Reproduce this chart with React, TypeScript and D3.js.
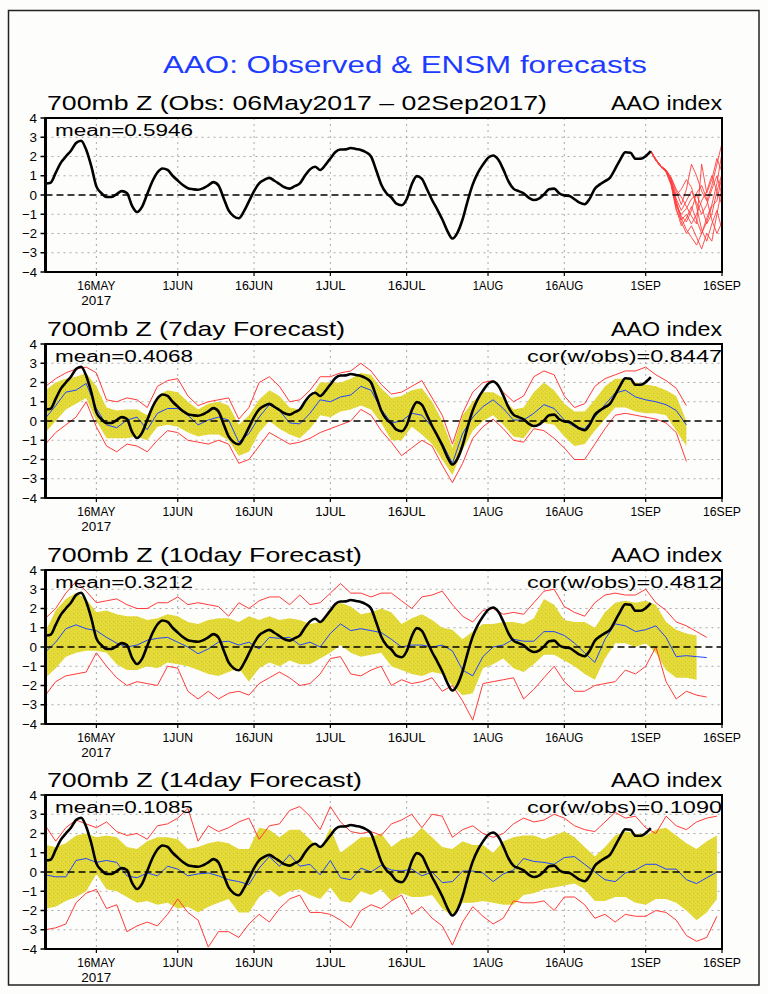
import * as d3 from "d3";
import { useEffect, useRef } from "react";

// time axis: 06May2017 .. 16Sep2017
const START = new Date(2017, 4, 6);
const END = new Date(2017, 8, 16);

// observed AAO index, daily from 06May2017 to 02Sep2017
const obs = [
  0.6, 0.64, 1.15, 1.67, 2.0, 2.3, 2.7, 2.82, 2.35, 1.5,
  0.45, 0.1, -0.1, -0.1, 0.05, 0.2, 0.1, -0.55, -0.88, -0.6,
  0.05, 0.7, 1.17, 1.38, 1.3, 1.0, 0.75, 0.52, 0.35, 0.3,
  0.27, 0.35, 0.5, 0.67, 0.5, -0.15, -0.8, -1.1, -1.21, -0.85,
  -0.33, 0.2, 0.6, 0.78, 0.89, 0.74, 0.57, 0.4, 0.33, 0.46,
  0.6, 1.0, 1.33, 1.47, 1.3, 1.55, 1.9, 2.23, 2.36, 2.37,
  2.44, 2.39, 2.34, 2.22, 2.0, 1.3, 0.55, 0.1, -0.13, -0.45,
  -0.53, -0.22, 0.55, 0.98, 0.84, 0.3, -0.26, -0.74, -1.26, -1.86,
  -2.26, -1.95, -1.26, -0.3, 0.55, 1.15, 1.58, 1.93, 2.05, 1.84,
  1.33, 0.72, 0.33, 0.2, 0.09, -0.14, -0.26, -0.19, 0.03, 0.3,
  0.33, 0.09, -0.02, -0.05, -0.22, -0.4, -0.48, -0.19, 0.33, 0.55,
  0.72, 0.9, 1.36, 1.84, 2.22, 2.19, 1.88, 1.88, 2.02, 2.28,
];

// ensemble members, daily from 02Sep2017 to 16Sep2017
const members = [
  [2.28, 1.85, 1.5, 1.3, 0.9, 0.2, -0.5, 0.3, 1.6, 1.0, 0.2, -0.3, 0.5, 1.6, 2.7],
  [2.28, 1.8, 1.45, 1.2, 0.6, -0.6, -1.0, -0.7, -0.2, 0.0, -0.6, -1.5, -1.0, 0.2, 1.1],
  [2.28, 1.8, 1.5, 1.25, 0.7, -0.3, -1.2, -1.8, -2.2, -2.6, -2.0, -1.2, -0.5, 0.6, 2.2],
  [2.28, 1.85, 1.5, 1.3, 0.8, 0.0, 0.3, 0.8, 0.4, -0.6, -1.8, -2.4, -1.5, -0.8, -1.8],
  [2.28, 1.8, 1.45, 1.2, 0.5, -0.8, -1.3, -1.0, -1.5, -1.0, -0.3, 0.2, 1.0, 0.2, -0.5],
  [2.28, 1.8, 1.5, 1.25, 0.6, -0.5, -1.1, -1.4, -0.8, 0.1, 0.5, -0.2, -1.3, -2.0, -1.4],
  [2.28, 1.85, 1.5, 1.3, 0.9, 0.3, -0.1, -0.6, -1.1, -1.5, 1.6, 0.1, 0.8, 1.9, 1.2],
  [2.28, 1.8, 1.45, 1.2, 0.7, -0.4, -1.4, -2.0, -1.6, -2.2, -2.8, -2.0, -2.4, -1.0, 0.4],
  [2.28, 1.85, 1.5, 1.25, 0.8, -0.2, -0.8, -0.3, 0.2, -0.4, -1.0, -0.5, 0.3, 1.0, 0.0],
  [2.28, 1.8, 1.45, 1.25, 0.6, -0.7, -1.6, -1.2, -0.6, -1.3, -2.0, -1.4, -0.6, -0.3, 1.0],
];

// forecast series, every 2 days from 06May2017
const mean7 = [
  0.15, 0.8, 1.5, 1.6, 1.95, 0.65, -0.2, -0.35, 0.05, 0.2, -0.45, 0.4, 0.65, 0.65, 0.3, -0.2, 0.05,
  0.2, 0.05, -1.1, -0.65, 0.2, 0.85, 0.55, -0.1, -0.15, 0.4, 1.1, 1.0, 1.25, 1.35, 1.8, 1.6, 0.6,
  -0.1, 0.0, 0.4, 0.3, -0.3, -1.15, -2.2, -0.65, 0.2, 0.75, 1.1, 0.65, 0.05, 0.05, 0.4,
  0.85, 0.65, 0.05, -0.3, -0.4, 0.2, 0.85, 1.45, 1.6, 1.25, 1.1, 1.0, 0.85, 0.55, -0.2,
];
const band7Hi = [
  1.6, 2.0, 2.2, 2.3, 2.5, 1.8, 0.7, 0.55, 0.6, 0.6, 0.3, 1.3, 1.6, 1.5, 1.0, 0.6, 0.9,
  1.0, 0.8, -0.2, 0.3, 1.1, 1.6, 1.3, 0.7, 0.6, 1.2, 2.0, 2.0, 2.0, 2.2, 2.5, 2.4, 1.7,
  1.2, 1.3, 1.6, 1.7, 1.0, 0.0, -1.4, 0.3, 1.0, 1.5, 1.5, 1.2, 0.6, 0.7, 1.5,
  2.0, 1.6, 0.9, 0.5, 0.5, 1.1, 1.8, 2.2, 2.2, 2.0, 1.9, 1.8, 1.6, 1.3, 0.0,
];
const band7Lo = [
  -0.6, 0.0, 0.6, 0.9, 1.2, 0.0, -0.9, -0.9, -0.9, -0.8, -1.0, -0.3, -0.2, -0.3, -0.6, -0.8, -0.7,
  -0.7, -1.0, -1.8, -1.6, -0.6, 0.0, -0.4, -0.7, -0.9, -0.4, 0.3, 0.2, 0.5, 0.6, 0.8, 0.6, -0.1,
  -1.0, -1.0, -0.3, -0.7, -1.2, -2.0, -2.8, -1.5, -0.5, 0.0, 0.3, -0.2, -0.8, -0.9, -0.2,
  -0.1, -0.2, -0.8, -1.3, -1.2, -0.5, 0.1, 0.7, 0.7, 0.5, 0.4, 0.4, 0.3, -0.5, -1.3,
];
const red7Hi = [
  1.8, 2.2, 2.5, 2.7, 2.8, 2.5, 1.1, 1.0, 1.2, 1.1, 0.7, 1.8, 2.1, 2.2, 1.3, 0.8, 1.0,
  1.1, 1.2, 0.1, 0.7, 2.0, 2.3, 1.8, 1.0, 1.1, 1.6, 2.3, 2.3, 2.5, 2.6, 3.0, 2.6, 1.9,
  1.4, 1.5, 1.8, 2.1, 1.2, 0.3, -1.2, 0.4, 1.5, 2.0, 2.1, 1.5, 1.0, 1.3, 2.3,
  2.6, 2.4, 1.3, 0.7, 0.9, 1.8, 2.2, 2.4, 2.6, 2.6, 2.8, 2.4, 2.1, 1.7, 0.8,
];
const red7Lo = [
  -1.2, -0.6, -0.2, 0.2, 1.0, -0.3, -1.3, -1.6, -1.2, -1.3, -1.6, -1.0, -0.5, -0.6, -1.0, -1.1, -1.2,
  -1.0, -1.2, -2.2, -2.0, -1.3, -0.6, -0.9, -1.2, -1.1, -0.9, -0.6, -0.4, -0.2, 0.0, 0.6, 0.3, -0.5,
  -1.1, -1.8, -1.4, -1.0, -1.3, -2.3, -3.2, -2.2, -0.9, -0.3, 0.1, -0.4, -1.0, -1.1, -0.4,
  -0.5, -0.9, -1.4, -2.0, -2.0, -1.2, -0.4, 0.3, 0.4, 0.3, 0.2, 0.1, -0.1, -0.6, -2.1,
];

const mean10 = [
  -0.25, 0.25, 0.95, 1.15, 0.95, 0.85, 0.5, 0.2, 0.0, 0.1, 0.35, 0.45, 0.5, 0.25, 0.0, -0.35, -0.1,
  0.25, 0.3, 0.1, 0.25, -0.1, 0.5, 0.45, 0.5, 0.1, 0.25, 0.0, 0.7, 1.2, 0.85, 0.95, 0.85, 0.75,
  0.4, 0.0, 0.1, 0.1, 0.0, 0.1, -0.2, -1.2, -1.5, -0.5, 0.0, 0.1, 0.4, 0.3, 0.3, 0.8,
  0.8, 0.6, 0.2, -0.3, -0.8, 0.4, 1.2, 1.1, 0.8, 0.9, 1.1, 0.5, -0.5, -0.45, -0.5, -0.55,
];
const band10Hi = [
  0.8, 1.9, 2.5, 2.8, 2.5, 1.8, 1.9, 1.7, 1.6, 1.6, 1.4, 1.5, 1.7, 1.6, 1.3, 1.2, 1.4,
  1.5, 1.5, 1.3, 1.6, 1.4, 1.6, 1.4, 1.5, 1.4, 1.2, 1.3, 2.0, 2.3, 2.1, 1.7, 1.8, 2.0,
  1.8, 1.2, 1.5, 1.7, 1.4, 1.0, 0.9, 0.4, 0.8, 1.2, 1.2, 1.3, 1.3, 1.2, 1.5, 2.5,
  2.2, 1.4, 1.3, 1.3, 1.0, 1.8, 2.3, 2.4, 2.3, 2.4, 2.2, 1.3, 0.9, 0.7, 0.6,
];
const band10Lo = [
  -1.6, -1.1, -0.5, -0.3, -0.2, -0.2, -0.3, -0.9, -1.2, -1.2, -1.0, -1.1, -0.8, -0.9, -1.0, -1.2, -1.4,
  -1.5, -1.3, -1.1, -1.8, -1.1, -0.8, -1.0, -0.7, -0.9, -0.9, -0.6, -0.3, 0.1, -0.3, -0.5, -0.4, -0.3,
  -1.0, -1.2, -1.4, -1.5, -1.3, -1.4, -2.0, -2.5, -2.4, -1.1, -0.9, -0.6, -1.1, -1.3, -0.9, -0.4,
  -0.4, -0.7, -1.0, -1.4, -1.7, -0.6, 0.2, 0.2, 0.0, 0.2, -0.3, -1.2, -1.6, -1.6, -1.7,
];
const red10Hi = [
  1.5, 2.0, 2.8, 3.4, 2.9, 2.3, 2.4, 2.5, 2.2, 2.0, 2.0, 2.3, 2.3, 2.6, 2.2, 2.3, 2.2,
  2.1, 1.6, 2.3, 2.0, 2.4, 2.6, 2.6, 2.2, 2.7, 2.2, 2.3, 2.8, 3.3, 2.8, 2.8, 2.6, 2.8,
  2.8, 2.4, 2.0, 2.6, 2.7, 2.9, 2.2, 1.6, 1.3, 1.9, 2.0, 1.7, 1.8, 1.7, 2.3, 2.9,
  3.0, 2.1, 1.8, 1.6, 2.3, 2.7, 2.8, 2.7, 2.7, 3.0, 2.3, 1.9, 1.3, 1.1, 0.8, 0.5,
];
const red10Lo = [
  -2.5, -1.8, -1.5, -1.4, -1.3, -0.3, -1.0, -1.6, -2.0, -1.8, -1.9, -2.0, -1.0, -1.1, -2.3, -2.7, -2.3,
  -2.7, -2.4, -2.3, -2.5, -1.9, -1.6, -1.3, -1.6, -2.0, -1.9, -1.4, -0.6, -0.5, -1.4, -1.5, -1.2, -1.0,
  -2.0, -1.7, -1.9, -1.8, -1.6, -2.3, -2.0, -2.8, -3.8, -1.9, -1.8, -1.7, -1.6, -2.7, -2.2, -1.6,
  -1.0, -1.8, -2.3, -2.3, -2.0, -1.9, -1.8, -1.2, -1.4, -1.0, 0.0, -1.8, -2.7, -2.3, -2.5, -2.6,
];

const mean14 = [
  -0.15, -0.25, -0.25, 0.6, 0.7, 0.5, 0.6, 0.5, -0.2, -0.3, -0.05, -0.2, 0.3, 0.15, -0.2, -0.1, -0.05,
  -0.2, -0.4, -0.5, -0.65, 0.2, 0.8, 0.3, 0.9, 0.3, 0.4, -0.15, 0.6, -0.3, -0.4, 0.2, 0.0, 0.35,
  0.1, 0.05, 0.15, -0.2, 0.0, -0.55, -0.5, 0.05, 0.05, -0.05, -0.5, -0.1, 0.1, 0.7, 0.55, 0.5, 0.4,
  0.75, 0.8, 0.4, 0.0, -0.4, -0.5, -0.05, 0.1, 0.4, 0.4, 0.15, 0.15, -0.4, -0.6, -0.3, 0.0,
];
const band14Hi = [
  1.4, 1.3, 1.5, 1.9, 2.0, 1.8, 1.9, 1.8, 1.3, 1.2, 1.6, 1.8, 1.8, 1.7, 1.2, 1.3, 1.5,
  1.6, 1.5, 1.2, 1.2, 2.3, 2.2, 1.8, 2.2, 2.2, 1.7, 1.2, 2.3, 1.0, 1.4, 1.8, 1.8, 2.0,
  1.3, 1.7, 1.8, 2.3, 1.8, 1.3, 1.2, 1.6, 1.4, 1.4, 1.0, 1.6, 1.8, 1.9, 1.9, 1.7, 1.9,
  2.1, 1.8, 1.3, 0.8, 1.3, 1.9, 2.1, 2.0, 1.9, 2.2, 2.3, 1.9, 1.5, 1.2, 1.6, 1.9,
];
const band14Lo = [
  -1.9, -1.8, -1.5, -1.3, -1.0, -0.1, -0.9, -1.0, -1.3, -1.6, -1.5, -1.7, -1.6, -1.9, -1.8, -2.1, -1.8,
  -1.6, -1.4, -2.1, -2.1, -1.3, -0.9, -1.3, -1.0, -0.9, -1.2, -1.4, -0.8, -1.5, -1.6, -1.0, -1.2, -0.9,
  -1.5, -1.1, -1.3, -1.3, -1.2, -1.9, -2.3, -1.6, -1.6, -1.5, -1.6, -1.7, -1.7, -1.2, -1.1, -0.9, -0.8,
  -0.7, -0.6, -0.9, -1.5, -1.5, -1.3, -1.3, -1.6, -1.7, -1.4, -1.4, -1.6, -2.0, -2.5, -2.1, -1.4,
];
const red14Hi = [
  2.4, 1.6, 2.3, 2.7, 2.5, 2.3, 2.6, 2.1, 1.9, 2.0, 1.7, 2.4, 2.5, 2.8, 3.3, 1.6, 2.4,
  2.1, 2.3, 2.6, 2.8, 1.7, 2.4, 2.5, 3.2, 3.4, 2.9, 2.2, 3.4, 2.6, 2.1, 2.0, 2.1, 1.9,
  2.5, 2.7, 3.0, 2.3, 3.0, 2.9, 1.8, 2.2, 2.4, 2.0, 1.8, 2.0, 2.5, 2.8, 2.6, 2.7, 3.0,
  2.8, 2.4, 2.2, 2.1, 2.6, 3.1, 2.8, 2.9, 2.3, 2.0, 2.9, 2.4, 2.2, 2.6, 2.8, 2.9,
];
const red14Lo = [
  -3.0, -2.9, -2.7, -1.6, -1.1, -0.9, -1.9, -1.7, -3.1, -2.8, -2.6, -2.8, -2.2, -1.4, -2.1, -2.5, -3.9,
  -3.1, -3.1, -3.4, -2.7, -2.2, -2.6, -1.9, -1.4, -1.2, -2.1, -2.1, -2.2, -2.5, -2.9, -2.0, -1.7, -1.9,
  -1.5, -1.2, -2.2, -1.8, -2.4, -2.8, -3.8, -2.6, -1.8, -2.3, -2.7, -2.4, -1.5, -1.6, -1.6, -1.5, -2.0,
  -1.3, -1.3, -1.7, -2.4, -2.2, -2.6, -2.2, -2.3, -2.3, -2.0, -2.1, -2.5, -3.3, -3.6, -3.4, -2.3,
];

const tickDates = [
  new Date(2017, 4, 16), new Date(2017, 5, 1), new Date(2017, 5, 16),
  new Date(2017, 6, 1), new Date(2017, 6, 16), new Date(2017, 7, 1),
  new Date(2017, 7, 16), new Date(2017, 8, 1), new Date(2017, 8, 16),
];
const yTicks = [-4, -3, -2, -1, 0, 1, 2, 3, 4];

const panelTitles = [
  "700mb Z (Obs: 06May2017 \u2013 02Sep2017)",
  "700mb Z (7day Forecast)",
  "700mb Z (10day Forecast)",
  "700mb Z (14day Forecast)",
];
const meanLabels = ["mean=0.5946", "mean=0.4068", "mean=0.3212", "mean=0.1085"];
const corLabels = ["", "cor(w/obs)=0.8447", "cor(w/obs)=0.4812", "cor(w/obs)=0.1090"];

const forecasts = [
  null,
  { mean: mean7, hi: band7Hi, lo: band7Lo, redHi: red7Hi, redLo: red7Lo },
  { mean: mean10, hi: band10Hi, lo: band10Lo, redHi: red10Hi, redLo: red10Lo },
  { mean: mean14, hi: band14Hi, lo: band14Lo, redHi: red14Hi, redLo: red14Lo },
];

const FONT = "'Liberation Sans', Arial, sans-serif";
const W = 768;
const H = 994;
const PL = 45.5; // plot left
const PR = 722; // plot right
const PH = 154; // plot height
const tops = [118, 344, 570, 795];
const titleLens = [500, 298, 315, 315];

const App = () => {
  const ref = useRef<SVGSVGElement | null>(null);

  useEffect(() => {
    const svg = d3.select(ref.current);
    svg.selectAll("*").remove();

    svg.append("rect").attr("width", W).attr("height", H).attr("fill", "#fdfdfb");
    svg.append("rect")
      .attr("x", 8.5).attr("y", 10.5).attr("width", 750.5).attr("height", 974.5)
      .attr("fill", "none").attr("stroke", "#222").attr("stroke-width", 1.5);

    // stippled yellow fill for the spread band
    const defs = svg.append("defs");
    const pat = defs.append("pattern")
      .attr("id", "stipple").attr("patternUnits", "userSpaceOnUse")
      .attr("width", 4).attr("height", 4);
    pat.append("rect").attr("width", 4).attr("height", 4).attr("fill", "#e4da38");
    pat.append("rect").attr("x", 1).attr("y", 1).attr("width", 1).attr("height", 1).attr("fill", "#cdc232");
    pat.append("rect").attr("x", 3).attr("y", 3).attr("width", 1).attr("height", 1).attr("fill", "#d8ce36");

    const text = (
      g: any, s: string, x: number, y: number, size: number, len: number,
      color = "#000", anchor = "start"
    ) => {
      const x0 = anchor === "end" ? x - len : anchor === "middle" ? x - len / 2 : x;
      g.append("text")
        .attr("x", x0).attr("y", y)
        .attr("font-family", FONT).attr("font-size", size)
        .attr("fill", color)
        .attr("textLength", len).attr("lengthAdjust", "spacingAndGlyphs")
        .text(s);
    };

    text(svg, "AAO: Observed & ENSM forecasts", 163, 73, 23, 484, "#1e3cff");

    const x = d3.scaleTime().domain([START, END]).range([PL, PR]);
    const fmt = d3.timeFormat("%-d%b");
    const dayAt = (i: number, step = 1) => d3.timeDay.offset(START, i * step);

    tops.forEach((top, p) => {
      const y = d3.scaleLinear().domain([-4, 4]).range([top + PH, top]);
      const g = svg.append("g");

      const clipId = `clip${p}`;
      defs.append("clipPath").attr("id", clipId)
        .append("rect").attr("x", PL).attr("y", top).attr("width", PR - PL).attr("height", PH);

      // dotted grid
      yTicks.filter((t) => t !== 0 && Math.abs(t) !== 4).forEach((t) => {
        g.append("line")
          .attr("x1", PL).attr("x2", PR).attr("y1", y(t)).attr("y2", y(t))
          .attr("stroke", "#aaa").attr("stroke-width", 1).attr("stroke-dasharray", "2,4");
      });
      tickDates.slice(0, -1).forEach((d) => {
        g.append("line")
          .attr("x1", x(d)).attr("x2", x(d)).attr("y1", top).attr("y2", top + PH)
          .attr("stroke", "#aaa").attr("stroke-width", 1).attr("stroke-dasharray", "2,4");
      });

      const plot = g.append("g").attr("clip-path", `url(#${clipId})`);
      const fc = forecasts[p];

      if (fc) {
        const area = d3.area<number>()
          .x((_, i) => x(dayAt(i, 2)))
          .y0((_, i) => y(fc.lo[i]))
          .y1((v) => y(v));
        plot.append("path").datum(fc.hi).attr("d", area).attr("fill", "url(#stipple)");

        const line2 = d3.line<number>().x((_, i) => x(dayAt(i, 2))).y((v) => y(v));
        [fc.redHi, fc.redLo].forEach((s) => {
          plot.append("path").datum(s).attr("d", line2)
            .attr("fill", "none").attr("stroke", "#ff3b3b").attr("stroke-width", 1);
        });
        plot.append("path").datum(fc.mean).attr("d", line2)
          .attr("fill", "none").attr("stroke", "#2046ff").attr("stroke-width", 1);
      }

      // zero line
      g.append("line")
        .attr("x1", PL).attr("x2", PR).attr("y1", y(0)).attr("y2", y(0))
        .attr("stroke", "#000").attr("stroke-width", 1.3).attr("stroke-dasharray", "7,4");

      const line1 = d3.line<number>().x((_, i) => x(dayAt(i))).y((v) => y(v)).curve(d3.curveMonotoneX);

      if (p === 0) {
        const lineM = d3.line<number>().x((_, i) => x(dayAt(119 + i))).y((v) => y(v));
        members.forEach((m) => {
          plot.append("path").datum(m).attr("d", lineM)
            .attr("fill", "none").attr("stroke", "#ff4040").attr("stroke-width", 0.9);
        });
      }

      plot.append("path").datum(obs).attr("d", line1)
        .attr("fill", "none").attr("stroke", "#000").attr("stroke-width", 2.6)
        .attr("stroke-linejoin", "round");

      // frame
      g.append("rect")
        .attr("x", PL).attr("y", top).attr("width", PR - PL).attr("height", PH)
        .attr("fill", "none").attr("stroke", "#000").attr("stroke-width", 2);
      g.append("line")
        .attr("x1", PL).attr("x2", PL).attr("y1", top).attr("y2", top + PH)
        .attr("stroke", "#000").attr("stroke-width", 3);

      // y axis
      yTicks.forEach((t) => {
        g.append("line")
          .attr("x1", PL - 5).attr("x2", PL).attr("y1", y(t)).attr("y2", y(t))
          .attr("stroke", "#000").attr("stroke-width", 1.5);
        const s = t < 0 ? `\u2212${-t}` : `${t}`;
        text(g, s, 37, y(t) + 4.5, 13, t < 0 ? 15 : 7.5, "#000", "end");
      });

      // x axis
      tickDates.forEach((d) => {
        g.append("line")
          .attr("x1", x(d)).attr("x2", x(d)).attr("y1", top + PH).attr("y2", top + PH + 4)
          .attr("stroke", "#000").attr("stroke-width", 1.2);
        const s = fmt(d).toUpperCase();
        text(g, s, x(d), top + PH + 17.5, 13.5, s.length * 7.6, "#000", "middle");
      });
      text(g, "2017", x(tickDates[0]), top + PH + 32.5, 13.5, 30, "#000", "middle");

      // labels
      text(g, panelTitles[p], 47, top - 8, 21, titleLens[p]);
      text(g, "AAO index", PR, top - 8, 21, 111, "#000", "end");
      text(g, meanLabels[p], 55, top + 18, 16, 138);
      if (corLabels[p]) text(g, corLabels[p], PR, top + 18, 16, 195, "#000", "end");
    });
  }, []);

  return (
    <svg
      ref={ref}
      width={W}
      height={H}
      style={{ position: "absolute", left: 0, top: 0, display: "block" }}
    />
  );
};

export default App;
